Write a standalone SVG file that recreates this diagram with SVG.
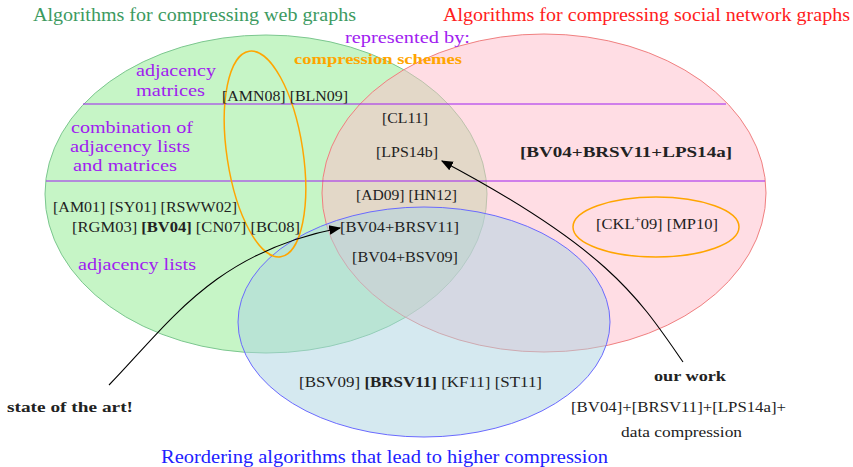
<svg xmlns="http://www.w3.org/2000/svg" width="853" height="467" viewBox="0 0 853 467">
<style>
text{fill:#222;font-family:'Liberation Serif','DejaVu Serif','Noto Serif',serif}
.t{font-size:18px}
.p{fill:#a020f0;font-size:17px}
.r{font-size:15px}
.b{font-weight:bold}
.sep{stroke:#a020f0;stroke-width:1.2}
.orng{fill:none;stroke:#ffa500;stroke-width:1.5}
.arr{fill:none;stroke:#000;stroke-width:1.1;marker-end:url(#ah)}
</style>
<defs>
<marker id="ah" viewBox="0 0 10 10" refX="9" refY="5" markerWidth="12" markerHeight="12" markerUnits="userSpaceOnUse" orient="auto">
<path d="M0,1 L10,5 L0,9 Z" fill="#000"/>
</marker>
</defs>
<rect width="853" height="467" fill="#fff"/>
<g id="web">
<ellipse cx="266" cy="194" rx="221" ry="159" fill="rgb(141,235,141)" fill-opacity="0.5" stroke="#7cc78f" stroke-width="1"/>
</g>
<g id="social">
<ellipse cx="544" cy="193" rx="222" ry="159" fill="rgb(255,187,201)" fill-opacity="0.5" stroke="#f08080" stroke-width="1"/>
</g>
<g id="reorder">
<ellipse cx="424" cy="322" rx="186" ry="115" fill="rgb(171,211,225)" fill-opacity="0.5" stroke="#6a6aff" stroke-width="1"/>
</g>
<g id="separators">
<line class="sep" x1="83" y1="104" x2="726" y2="104"/>
<line class="sep" x1="46" y1="181" x2="765" y2="181"/>
</g>
<g id="schemes">
<ellipse class="orng" cx="265" cy="154" rx="38" ry="104" transform="rotate(-8.7 265 154)"/>
<ellipse class="orng" cx="656" cy="227" rx="83" ry="30"/>
</g>
<g>
<g id="labels">
<text class="t" x="33" y="21" style="fill:#3c9a5f" textLength="323" lengthAdjust="spacingAndGlyphs">Algorithms for compressing web graphs</text>
<text class="t" x="443" y="21" style="fill:#ff2020" textLength="407" lengthAdjust="spacingAndGlyphs">Algorithms for compressing social network graphs</text>
<text class="p" x="345" y="43" textLength="125" lengthAdjust="spacingAndGlyphs">represented by:</text>
<text class="b" x="294" y="64" style="fill:#ffa500;font-size:14px" textLength="168" lengthAdjust="spacingAndGlyphs">compression schemes</text>
<text class="p" x="136" y="76" textLength="80" lengthAdjust="spacingAndGlyphs">adjacency</text>
<text class="p" x="136" y="96" textLength="69" lengthAdjust="spacingAndGlyphs">matrices</text>
<text class="p" x="71" y="133" textLength="122" lengthAdjust="spacingAndGlyphs">combination of</text>
<text class="p" x="70" y="152" textLength="120" lengthAdjust="spacingAndGlyphs">adjacency lists</text>
<text class="p" x="73" y="171" textLength="104" lengthAdjust="spacingAndGlyphs">and matrices</text>
<text class="p" x="78" y="270" textLength="118" lengthAdjust="spacingAndGlyphs">adjacency lists</text>
</g>
<g id="refs">
<text class="r" x="222" y="101" textLength="126" lengthAdjust="spacingAndGlyphs">[AMN08] [BLN09]</text>
<text class="r" x="382" y="123" textLength="46" lengthAdjust="spacingAndGlyphs">[CL11]</text>
<text class="r" x="376" y="157" textLength="62" lengthAdjust="spacingAndGlyphs">[LPS14b]</text>
<text class="r b" x="520" y="157" textLength="212" lengthAdjust="spacingAndGlyphs">[BV04+BRSV11+LPS14a]</text>
<text class="r" x="356" y="200" textLength="101" lengthAdjust="spacingAndGlyphs">[AD09] [HN12]</text>
<text class="r" x="53" y="212" textLength="184" lengthAdjust="spacingAndGlyphs">[AM01] [SY01] [RSWW02]</text>
<text class="r" x="72" y="232" textLength="228" lengthAdjust="spacingAndGlyphs">[RGM03] <tspan class="b">[BV04]</tspan> [CN07] [BC08]</text>
<text class="r" x="340" y="232" textLength="119" lengthAdjust="spacingAndGlyphs">[BV04+BRSV11]</text>
<text class="r" x="352" y="262" textLength="106" lengthAdjust="spacingAndGlyphs">[BV04+BSV09]</text>
<text class="r" x="596" y="229" textLength="122" lengthAdjust="spacingAndGlyphs">[CKL<tspan dy="-6" font-size="10">+</tspan><tspan dy="6">09] [MP10]</tspan></text>
<text class="r" x="299" y="387" textLength="243" lengthAdjust="spacingAndGlyphs">[BSV09] <tspan class="b">[BRSV11]</tspan> [KF11] [ST11]</text>
</g>
<g id="notes">
<text class="r b" x="7" y="412" textLength="126" lengthAdjust="spacingAndGlyphs">state of the art!</text>
<text class="r b" x="654" y="381" textLength="72" lengthAdjust="spacingAndGlyphs">our work</text>
<text class="r" x="571" y="412" textLength="215" lengthAdjust="spacingAndGlyphs">[BV04]+[BRSV11]+[LPS14a]+</text>
<text class="r" x="621" y="437" textLength="121" lengthAdjust="spacingAndGlyphs">data compression</text>
<text class="t" x="161" y="463" style="fill:#2020ff" textLength="447" lengthAdjust="spacingAndGlyphs">Reordering algorithms that lead to higher compression</text>
</g>
</g>
<g id="connectors">
<path class="arr" d="M109,385 C170,322 215,252 340,228"/>
<path class="arr" d="M683,362 C640,300 610,250 442,161"/>
</g>
</svg>
